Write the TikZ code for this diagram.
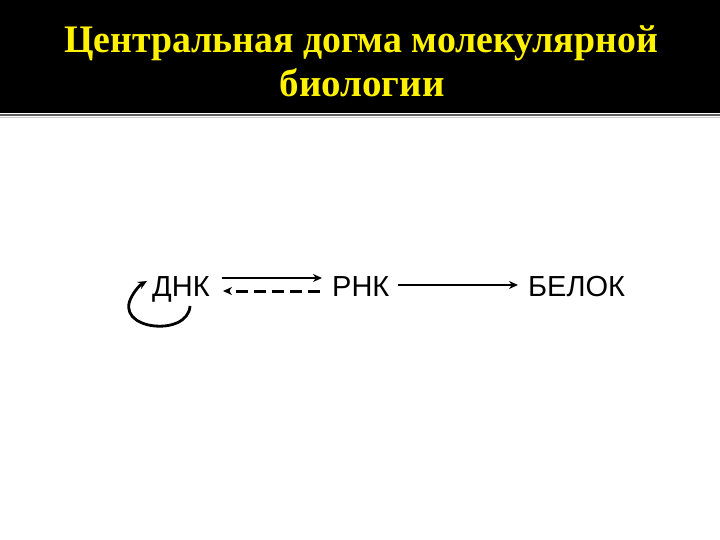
\documentclass[tikz,border=0pt]{standalone}
\usepackage{fontspec}
\setmainfont{Liberation Serif}
\newfontfamily\sansf{Liberation Sans}
\usetikzlibrary{arrows.meta}
\begin{document}
\begin{tikzpicture}[x=1pt,y=-1pt,
  lbl/.style={font=\sansf\fontsize{29}{30}\selectfont, inner sep=0pt, anchor=base west},
  ttl/.style={font=\bfseries\fontsize{39}{40}\selectfont, text=yellow, inner sep=0pt, anchor=base},
  arr/.style={line width=2.8pt, -{Stealth[length=9pt,width=8pt]}}]
\useasboundingbox (0,0) rectangle (720,540);
\fill[white] (0,0) rectangle (720,540);
\fill[black] (0,0) rectangle (720,113);
\draw[gray!75!black, line width=1.5pt] (0,115) -- (720,115);
\draw[gray!40, line width=1pt] (0,117.5) -- (720,117.5);
\node[ttl] (title1) at (361,53) {\scalebox{0.97}[1]{Центральная догма молекулярной}};
\node[ttl] (title2) at (362,97) {биологии};
\node[lbl] (dnk) at (152,296) {ДНК};
\node[lbl] (rnk) at (332,296) {РНК};
\node[lbl] (belok) at (528,296) {БЕЛОК};
\coordinate (a1) at (222,278);
\coordinate (a2) at (322,278);
\coordinate (d1) at (320,291);
\coordinate (d2) at (223,291);
\draw[arr] (a1) -- (a2);
\draw[arr, line width=3pt, dash pattern=on 12pt off 6pt] (d1) -- (d2);
\coordinate (r1) at (398,285);
\coordinate (r2) at (518,285);
\draw[arr, line width=2.4pt] (r1) -- (r2);
\coordinate (l1) at (190,306);
\coordinate (l2) at (147,281);
\draw[arr] (l1) .. controls (188,338) and (112,330) .. (132,296) .. controls (136,289) and (140,285) .. (l2);
\end{tikzpicture}
\end{document}
